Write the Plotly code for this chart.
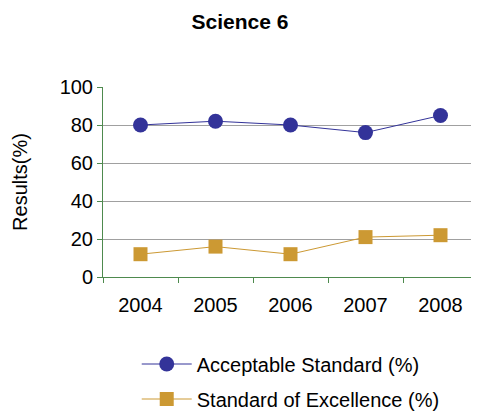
import plotly.graph_objects as go

years = ["2004", "2005", "2006", "2007", "2008"]
acceptable = [80, 82, 80, 76, 85]
excellence = [12, 16, 12, 21, 22]
y_ticks = [0, 20, 40, 60, 80, 100]

xpos = list(range(len(years)))
FONT = "Liberation Sans, Arial, sans-serif"
OFF = 8  # browser body margin

W, H = 479 + OFF + 10, 411 + OFF + 20
plot_l, plot_r, plot_t, plot_b = 100 - OFF, 478 - OFF, 87 - OFF, 277 - OFF
ph = plot_b - plot_t

fig = go.Figure()
fig.add_trace(go.Scatter(
    x=xpos, y=acceptable, name="Acceptable Standard (%)", mode="lines+markers",
    line=dict(color="#333399", width=1),
    marker=dict(symbol="circle", size=15, color="#333399"),
    legend="legend",
))
fig.add_trace(go.Scatter(
    x=xpos, y=excellence, name="Standard of Excellence (%)", mode="lines+markers",
    line=dict(color="#CC9933", width=1),
    marker=dict(symbol="square", size=14, color="#CC9933"),
    legend="legend2",
))

leg_x = (134 - OFF - plot_l) / (plot_r - plot_l)


def leg_y(py):
    return (plot_b - (py - OFF)) / ph


fig.update_layout(
    width=W, height=H,
    margin=dict(l=plot_l, r=W - plot_r, t=plot_t, b=H - plot_b),
    paper_bgcolor="white", plot_bgcolor="white",
    font=dict(family=FONT, color="black"),
    title=dict(text="<b>Science 6</b>", x=(240 - OFF) / W, xref="container", xanchor="center",
               y=1 - (22 - OFF) / H, yref="container", yanchor="middle",
               font=dict(size=21, family=FONT, color="black")),
    showlegend=True,
    legend=dict(x=leg_x, xanchor="left", y=leg_y(364), yanchor="middle",
                font=dict(size=20, family=FONT), itemwidth=50,
                bgcolor="rgba(0,0,0,0)", borderwidth=0),
    legend2=dict(x=leg_x, xanchor="left", y=leg_y(399), yanchor="middle",
                 font=dict(size=20, family=FONT), itemwidth=50,
                 bgcolor="rgba(0,0,0,0)", borderwidth=0),
)
fig.update_xaxes(
    range=[-0.5, len(years) - 0.5],
    tickvals=xpos, ticktext=years, ticks="", tickfont=dict(size=20, family=FONT),
    ticklabelstandoff=10,
    showgrid=False, zeroline=False,
    showline=True, linecolor="#4e8a4e", linewidth=1,
    minor=dict(tickvals=[i - 0.5 for i in range(len(years) + 1)], ticks="outside",
               ticklen=5, tickcolor="#4e8a4e", showgrid=False),
)
fig.update_yaxes(
    range=[0, 100], tickvals=y_ticks, ticks="outside", ticklen=5, tickcolor="#4e8a4e",
    tickfont=dict(size=20, family=FONT),
    showgrid=True, gridcolor="#a0a0a0", gridwidth=1, zeroline=False,
    showline=True, linecolor="#4e8a4e", linewidth=1,
    title=dict(text="Results(%)", font=dict(size=20, family=FONT), standoff=26),
)

fig.write_html("out.html")
